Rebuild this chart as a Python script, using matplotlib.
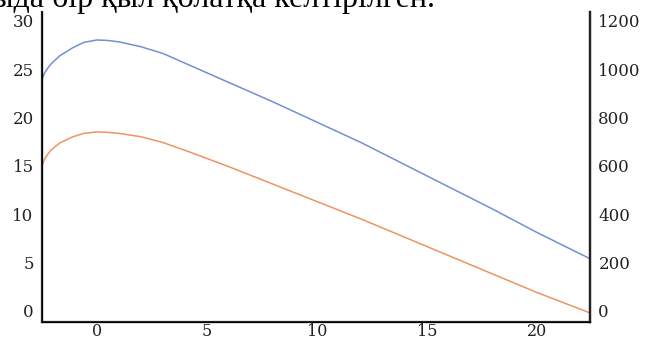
import matplotlib
matplotlib.use("Agg")
import matplotlib.pyplot as plt

# curve values (left axis units)
x_blue = [-2.5, -2.4, -2.3, -2.1, -1.7, -1.1, -0.6, 0, 0.5, 1, 2, 3, 4, 6, 8, 10, 12, 14, 16, 18, 20, 22.4]
y_blue = [23.9, 24.5, 24.9, 25.5, 26.35, 27.2, 27.75, 28.0, 27.95, 27.8, 27.3, 26.6, 25.6,
          23.6, 21.6, 19.5, 17.4, 15.1, 12.8, 10.5, 8.1, 5.4]
x_orange = [-2.5, -2.4, -2.3, -2.1, -1.7, -1.1, -0.6, 0, 0.5, 1, 2, 3, 4, 6, 8, 10, 12, 14, 16, 18, 20, 22.4]
y_orange = [15.0, 15.6, 16.0, 16.6, 17.35, 18.0, 18.35, 18.5, 18.45, 18.35, 18.0, 17.4, 16.6,
            14.9, 13.1, 11.3, 9.5, 7.6, 5.7, 3.8, 1.9, -0.2]

xticks = [0, 5, 10, 15, 20]
yticks_left = [0, 5, 10, 15, 20, 25, 30]
yticks_right = [0, 200, 400, 600, 800, 1000, 1200]

caption = "ыда бір қыл қолатқа келтірілген."

plt.rcParams['font.family'] = ['DejaVu Serif']

fig = plt.figure(figsize=(6.5, 3.4), dpi=100)
ax = fig.add_axes([0.0646, 0.0529, 0.8431, 0.9121])

ax.plot(x_blue, y_blue, color='#7290d0', lw=1.1)
ax.plot(x_orange, y_orange, color='#ee9462', lw=1.1)

ax.set_xlim(-2.5, 22.4)
ax.set_ylim(-1.14, 30.9)
ax.set_xticks(xticks)
ax.set_yticks(yticks_left)
ax.tick_params(length=0, labelsize=12, colors='#222222')
ax.tick_params(axis='x', pad=1, labelsize=11.5)
ax.tick_params(axis='y', pad=6)
ax.spines['top'].set_visible(False)
for s in ['left', 'right', 'bottom']:
    ax.spines[s].set_linewidth(1.6)
    ax.spines[s].set_color('#222222')

ax2 = ax.twinx()
ax2.set_ylim(-1.14 * 40, 30.9 * 40)
ax2.set_yticks(yticks_right)
ax2.tick_params(length=0, labelsize=12, pad=6, colors='#222222')
ax2.spines['top'].set_visible(False)
ax2.spines['right'].set_linewidth(1.6)
ax2.spines['right'].set_color('#222222')

# cut-off line of text above the chart
fig.text(-0.012, 1 - 7 / 340, caption, fontsize=23, va='baseline', ha='left',
         family=['Liberation Serif', 'DejaVu Serif'])

fig.savefig("out.png", dpi=100)
